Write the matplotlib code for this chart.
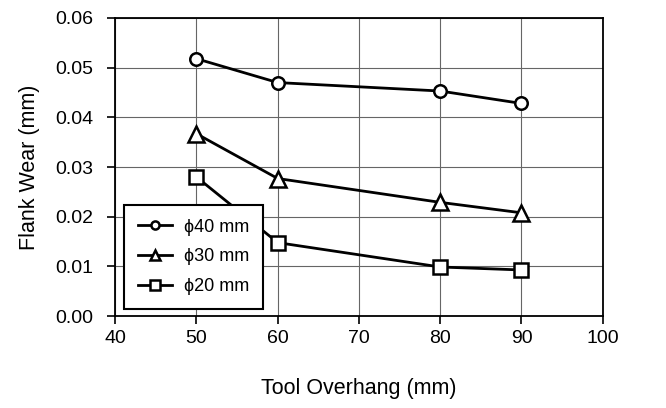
import matplotlib.pyplot as plt

overhang = [50, 60, 80, 90]
wear_40 = [0.0518, 0.0470, 0.0453, 0.0428]
wear_30 = [0.0367, 0.0277, 0.0229, 0.0208]
wear_20 = [0.0280, 0.0148, 0.0099, 0.0093]
labels = ['\u03d540 mm', '\u03d530 mm', '\u03d520 mm']

plt.rcParams['font.family'] = ['Liberation Sans', 'DejaVu Sans']

fig = plt.figure(figsize=(6.66, 4.08), dpi=100)
ax = fig.add_axes([0.173, 0.225, 0.732, 0.731])

style = dict(color='black', lw=2.0, markerfacecolor='white',
             markeredgecolor='black', markeredgewidth=1.8)
ax.plot(overhang, wear_40, marker='o', markersize=9, label=labels[0], **style)
ax.plot(overhang, wear_30, marker='^', markersize=12, label=labels[1], **style)
ax.plot(overhang, wear_20, marker='s', markersize=10, label=labels[2], **style)

ax.set_xlim(40, 100)
ax.set_ylim(0, 0.06)
ax.set_xticks(range(40, 101, 10))
ax.set_yticks([0, 0.01, 0.02, 0.03, 0.04, 0.05, 0.06])
ax.set_yticklabels(['0.00', '0.01', '0.02', '0.03', '0.04', '0.05', '0.06'])
ax.grid(True, color='#666666', lw=0.8)
ax.set_axisbelow(True)
for s in ax.spines.values():
    s.set_linewidth(1.3)
ax.tick_params(direction='out', length=6, width=1.2, labelsize=14)
ax.tick_params(axis='y', pad=10)
ax.tick_params(axis='x', pad=4)

ax.set_xlabel('Tool Overhang (mm)', fontsize=15.5, labelpad=22)
ax.set_ylabel('Flank Wear (mm)', fontsize=15.5, labelpad=11)

leg = ax.legend(loc='upper left', bbox_to_anchor=(0.018, 0.372), borderaxespad=0,
                fontsize=13, fancybox=False, edgecolor='black', framealpha=1,
                handlelength=1.9, markerscale=0.65, labelspacing=0.7,
                borderpad=0.75, handletextpad=0.7)
leg.get_frame().set_linewidth(1.5)

fig.savefig('out.png', dpi=100)
